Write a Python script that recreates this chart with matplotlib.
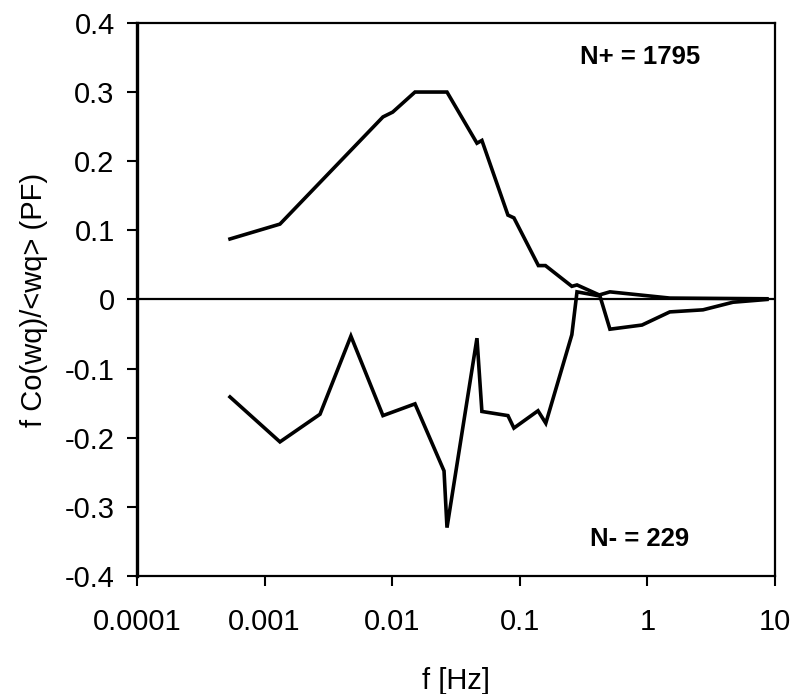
import matplotlib
matplotlib.use("Agg")
import matplotlib.pyplot as plt
from matplotlib.ticker import FixedLocator, FixedFormatter, NullLocator

plt.rcParams['font.family'] = ['Liberation Sans', 'DejaVu Sans']

# positive (upward) cospectrum
f_pos = [5.36e-4, 1.32e-3, 8.47e-3, 1.01e-2, 1.51e-2, 2.69e-2, 4.62e-2, 5.05e-2,
         8.08e-2, 9.0e-2, 0.140, 0.159, 0.256, 0.281, 0.42, 0.509, 1.5, 8.65]
co_pos = [0.0875, 0.109, 0.264, 0.271, 0.300, 0.300, 0.226, 0.230,
          0.122, 0.118, 0.049, 0.049, 0.019, 0.021, 0.0065, 0.011, 0.002, 0.001]

# negative (downward) cospectrum
f_neg = [5.36e-4, 1.32e-3, 2.72e-3, 4.75e-3, 8.47e-3, 1.51e-2, 2.55e-2, 2.69e-2,
         4.62e-2, 5.05e-2, 8.08e-2, 9.0e-2, 0.139, 0.160, 0.256, 0.281, 0.425,
         0.509, 0.908, 1.50, 2.73, 4.69, 8.65]
co_neg = [-0.141, -0.206, -0.166, -0.053, -0.168, -0.151, -0.248, -0.330,
          -0.056, -0.162, -0.168, -0.186, -0.161, -0.179, -0.051, 0.011, 0.005,
          -0.043, -0.037, -0.018, -0.015, -0.004, 0.0]

x_ticks = [1e-4, 1e-3, 1e-2, 1e-1, 1, 10]
x_labels = ["0.0001", "0.001", "0.01", "0.1", "1", "10"]
y_ticks = [-0.4, -0.3, -0.2, -0.1, 0, 0.1, 0.2, 0.3, 0.4]
y_labels = ["-0.4", "-0.3", "-0.2", "-0.1", "0", "0.1", "0.2", "0.3", "0.4"]

fig = plt.figure(figsize=(7.94, 6.94), dpi=100)
ax = fig.add_axes([0.1725, 0.170, 0.8035, 0.797])

ax.axhline(0, color='black', lw=1.6, zorder=1)
ax.plot(f_pos, co_pos, color='black', lw=2.6, solid_joinstyle='miter', zorder=3)
ax.plot(f_neg, co_neg, color='black', lw=2.6, solid_joinstyle='miter', zorder=3)

ax.set_xscale('log')
ax.set_xlim(1e-4, 10)
ax.set_ylim(-0.4, 0.4)

ax.xaxis.set_major_locator(FixedLocator(x_ticks))
ax.xaxis.set_major_formatter(FixedFormatter(x_labels))
ax.xaxis.set_minor_locator(NullLocator())
ax.yaxis.set_major_locator(FixedLocator(y_ticks))
ax.yaxis.set_major_formatter(FixedFormatter(y_labels))

ax.tick_params(axis='both', direction='out', length=7, width=1.5, labelsize=21)
ax.tick_params(axis='x', pad=16)
ax.tick_params(axis='y', pad=9)

ax.spines['left'].set_linewidth(2.4)
ax.spines['bottom'].set_linewidth(1.6)
ax.spines['top'].set_linewidth(1.6)
ax.spines['right'].set_linewidth(1.6)

ax.set_xlabel("f [Hz]", fontsize=21, labelpad=22)
ax.set_ylabel("f Co(wq)/<wq> (PF)", fontsize=21, labelpad=12)

ax.text(0.875, 0.351, "N+ = 1795", fontsize=18.5, fontweight='bold', ha='center', va='center')
ax.text(0.875, -0.347, "N- = 229", fontsize=18.5, fontweight='bold', ha='center', va='center')

fig.savefig("out.png", dpi=100)
